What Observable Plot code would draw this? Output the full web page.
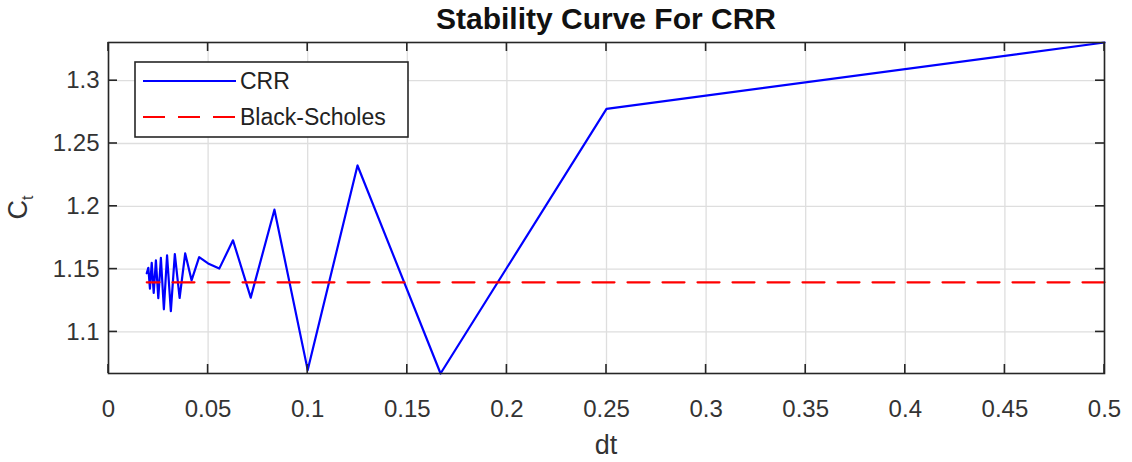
<!DOCTYPE html>
<html><head><meta charset="utf-8">
<script src="https://cdn.jsdelivr.net/npm/d3@7"></script>
<script src="https://cdn.jsdelivr.net/npm/@observablehq/plot@0.6"></script>
<style>body{margin:0;background:#fff} svg{display:block}</style>
</head><body><div id="chart"></div>
<script>
// ---- data ----
const dt = [0.5, 0.25, 0.1667, 0.125, 0.1, 0.0833, 0.0714, 0.0625, 0.0556, 0.05,
            0.0455, 0.0417, 0.0385, 0.0357, 0.0333, 0.0313, 0.0294, 0.0278, 0.0263, 0.025,
            0.0238, 0.0227, 0.0217, 0.0208, 0.02, 0.0192];
const crr = [1.3304, 1.2775, 1.0669, 1.2325, 1.0696, 1.1973, 1.1273, 1.1729, 1.1504, 1.1545,
             1.1596, 1.1411, 1.1625, 1.1270, 1.1620, 1.1165, 1.1610, 1.1180, 1.1590, 1.1268,
             1.1570, 1.1310, 1.1550, 1.1345, 1.1510, 1.1467];
const blackScholes = 1.1395;
const xTicks = [0, 0.05, 0.1, 0.15, 0.2, 0.25, 0.3, 0.35, 0.4, 0.45, 0.5];
const yTicks = [1.1, 1.15, 1.2, 1.25, 1.3];
const xDomain = [0, 0.5];
const yDomain = [1.0669, 1.3304];
const title = "Stability Curve For CRR";
const xLabel = "dt";
const yLabelMain = "C", yLabelSub = "t";
const seriesNames = ["CRR", "Black-Scholes"];

// ---- chart ----
const rows = dt.map((d, i) => ({dt: d, crr: crr[i], bs: blackScholes}));
const fmt = d => String(+d.toFixed(2));
const font = "'Liberation Sans', Arial, Helvetica, sans-serif";
const W = 1132, H = 462;
const M = {top: 42, right: 28, bottom: 89, left: 108};
const ink = "#262626";
const tickFont = 24;

const plot = Plot.plot({
  width: W, height: H,
  marginTop: M.top, marginRight: M.right, marginBottom: M.bottom, marginLeft: M.left,
  style: {fontFamily: font, color: ink, background: "#fff", overflow: "visible"},
  x: {domain: xDomain, ticks: xTicks, tickFormat: fmt, label: null},
  y: {domain: yDomain, ticks: yTicks, tickFormat: fmt, label: null},
  marks: [
    Plot.gridX(xTicks, {stroke: "#dedede", strokeOpacity: 1, strokeWidth: 1.3}),
    Plot.gridY(yTicks, {stroke: "#dedede", strokeOpacity: 1, strokeWidth: 1.3}),
    Plot.axisX(xTicks, {tickSize: 0, tickPadding: 26, fontSize: tickFont, fill: "#333", tickFormat: fmt, label: null}),
    Plot.axisY(yTicks, {tickSize: 0, tickPadding: 9, fontSize: tickFont, fill: "#333", tickFormat: fmt, label: null}),
    Plot.line(rows, {x: "dt", y: "crr", stroke: "#0000ff", strokeWidth: 2.2}),
    Plot.line(rows, {x: "dt", y: "bs", stroke: "#ff0000", strokeWidth: 2.2, strokeDasharray: "22,13"}),
    Plot.frame({stroke: ink, strokeWidth: 1.6})
  ]
});
document.getElementById("chart").append(plot);

const svg = d3.select(plot);
const sx = plot.scale("x"), sy = plot.scale("y");
const x0 = M.left, x1 = W - M.right, y0 = M.top, y1 = H - M.bottom;
const tl = 9;
const tg = svg.append("g").attr("stroke", ink).attr("stroke-width", 1.6);
for (const t of xTicks) {
  const px = sx.apply(t);
  tg.append("line").attr("x1", px).attr("x2", px).attr("y1", y1).attr("y2", y1 - tl);
  tg.append("line").attr("x1", px).attr("x2", px).attr("y1", y0).attr("y2", y0 + tl);
}
for (const t of yTicks) {
  const py = sy.apply(t);
  tg.append("line").attr("y1", py).attr("y2", py).attr("x1", x0).attr("x2", x0 + tl);
  tg.append("line").attr("y1", py).attr("y2", py).attr("x1", x1).attr("x2", x1 - tl);
}

// title
svg.append("text").attr("x", (x0 + x1) / 2).attr("y", 29).attr("text-anchor", "middle")
  .attr("font-family", font).attr("font-weight", "bold").attr("font-size", 30).attr("fill", "#111")
  .text(title);
// x label
svg.append("text").attr("x", (x0 + x1) / 2).attr("y", 454).attr("text-anchor", "middle")
  .attr("font-family", font).attr("font-size", 27).attr("fill", "#333").text(xLabel);
// y label with subscript
const yl = svg.append("text").attr("transform", `translate(27,${(y0 + y1) / 2}) rotate(-90)`)
  .attr("text-anchor", "middle").attr("font-family", font).attr("font-size", 27).attr("fill", "#333");
yl.append("tspan").text(yLabelMain);
yl.append("tspan").attr("font-size", 16).attr("dy", 6).text(yLabelSub);

// legend
const lg = svg.append("g");
lg.append("rect").attr("x", 135).attr("y", 62).attr("width", 273).attr("height", 75)
  .attr("fill", "#fff").attr("stroke", ink).attr("stroke-width", 1.6);
lg.append("line").attr("x1", 143).attr("x2", 236).attr("y1", 81).attr("y2", 81)
  .attr("stroke", "#0000ff").attr("stroke-width", 2.2);
lg.append("line").attr("x1", 143).attr("x2", 236).attr("y1", 117).attr("y2", 117)
  .attr("stroke", "#ff0000").attr("stroke-width", 2.2).attr("stroke-dasharray", "22,13");
lg.append("text").attr("x", 240).attr("y", 89).attr("text-anchor", "start").attr("font-family", font)
  .attr("font-size", 23).attr("fill", "#222").text(seriesNames[0]);
lg.append("text").attr("x", 240).attr("y", 125).attr("text-anchor", "start").attr("font-family", font)
  .attr("font-size", 23).attr("fill", "#222").text(seriesNames[1]);
</script>
</body></html>
